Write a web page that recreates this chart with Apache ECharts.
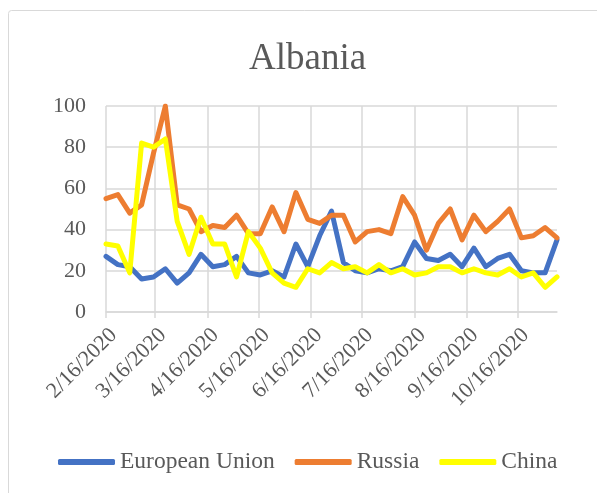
<!DOCTYPE html>
<html>
<head>
<meta charset="utf-8">
<script src="https://cdn.jsdelivr.net/npm/echarts@6/dist/echarts.min.js"></script>
<style>
html,body{margin:0;padding:0;background:#fff;}
#chart{width:597px;height:493px;}
</style>
</head>
<body>
<div id="chart"></div>
<script>
const weeks = ['2020-02-16','2020-02-23','2020-03-01','2020-03-08','2020-03-15','2020-03-22','2020-03-29',
  '2020-04-05','2020-04-12','2020-04-19','2020-04-26','2020-05-03','2020-05-10','2020-05-17','2020-05-24',
  '2020-05-31','2020-06-07','2020-06-14','2020-06-21','2020-06-28','2020-07-05','2020-07-12','2020-07-19',
  '2020-07-26','2020-08-02','2020-08-09','2020-08-16','2020-08-23','2020-08-30','2020-09-06','2020-09-13',
  '2020-09-20','2020-09-27','2020-10-04','2020-10-11','2020-10-18','2020-10-25','2020-11-01','2020-11-08'];
const europeanUnion = [27,23,22,16,17,21,14,19,28,22,23,27,19,18,20,17,33,22,37,49,24,20,19,21,20,22,34,26,25,28,22,31,22,26,28,20,19,19,35];
const russia = [55,57,48,52,77,100,52,50,39,42,41,47,38,38,51,39,58,45,43,47,47,34,39,40,38,56,47,30,43,50,35,47,39,44,50,36,37,41,36];
const china = [33,32,19,82,80,84,44,28,46,33,33,17,39,31,19,14,12,21,19,24,21,22,19,23,19,21,18,19,22,22,19,21,19,18,21,17,19,12,17];
const tickDates = ['2020-02-16','2020-03-16','2020-04-16','2020-05-16','2020-06-16','2020-07-16','2020-08-16','2020-09-16','2020-10-16'];
const tickLabels = ['2/16/2020','3/16/2020','4/16/2020','5/16/2020','6/16/2020','7/16/2020','8/16/2020','9/16/2020','10/16/2020'];
const yTicks = [0,20,40,60,80,100];

const font = 'Liberation Serif, Times New Roman, serif';
const txt = '#595959';
const gridC = '#d9d9d9';
const t0 = Date.parse(weeks[0] + 'T00:00:00Z');
const dayOf = d => Math.round((Date.parse(d + 'T00:00:00Z') - t0) / 86400000);
const tickDays = tickDates.map(dayOf);
function fmtX(v){
  const i = tickDays.indexOf(Math.round(v));
  return i >= 0 ? tickLabels[i] : '';
}
const pairs = arr => arr.map((v,i) => [dayOf(weeks[i]), v]);

const chart = echarts.init(document.getElementById('chart'), null, {renderer:'canvas'});
chart.setOption({
  animation:false,
  backgroundColor:'#fff',
  graphic:[{type:'rect', shape:{x:8.5,y:10.5,width:600,height:500,r:3}, style:{fill:'none',stroke:gridC,lineWidth:1}, silent:true, z:-1}],
  title:{text:'Albania', left:244, top:36, textStyle:{fontFamily:font, fontSize:37, fontWeight:'normal', color:txt}},
  grid:{left:106, right:40, top:106, bottom:181, containLabel:false},
  legend:{
    bottom:14, left:53, itemWidth:57, itemHeight:6, itemGap:20, icon:'roundRect',
    textStyle:{fontFamily:font, fontSize:23.5, color:txt},
    data:['European Union','Russia','China']
  },
  xAxis:{
    type:'value', min:0, max:dayOf(weeks[weeks.length-1]),
    axisLine:{show:true, lineStyle:{color:gridC, width:1.5}},
    axisTick:{show:true, length:6, lineStyle:{color:gridC, width:1.5}, customValues:tickDays},
    splitLine:{show:true, lineStyle:{color:gridC, width:1.5}},
    axisLabel:{customValues:tickDays, formatter:fmtX, rotate:45, margin:12, verticalAlign:'top', fontFamily:font, fontSize:22, color:txt, hideOverlap:false}
  },
  yAxis:{
    type:'value', min:yTicks[0], max:yTicks[yTicks.length-1], interval:20,
    axisLine:{show:false}, axisTick:{show:false},
    splitLine:{lineStyle:{color:gridC, width:1.5}},
    axisLabel:{margin:20, fontFamily:font, fontSize:22, color:txt}
  },
  series:[
    {name:'European Union', type:'line', data:pairs(europeanUnion), showSymbol:false, color:'#4472C4', lineStyle:{width:5, join:'round', cap:'round'}},
    {name:'Russia', type:'line', data:pairs(russia), showSymbol:false, color:'#ED7D31', lineStyle:{width:5, join:'round', cap:'round'}},
    {name:'China', type:'line', data:pairs(china), showSymbol:false, color:'#FFFF00', lineStyle:{width:5, join:'round', cap:'round'}}
  ]
});
</script>
</body>
</html>
